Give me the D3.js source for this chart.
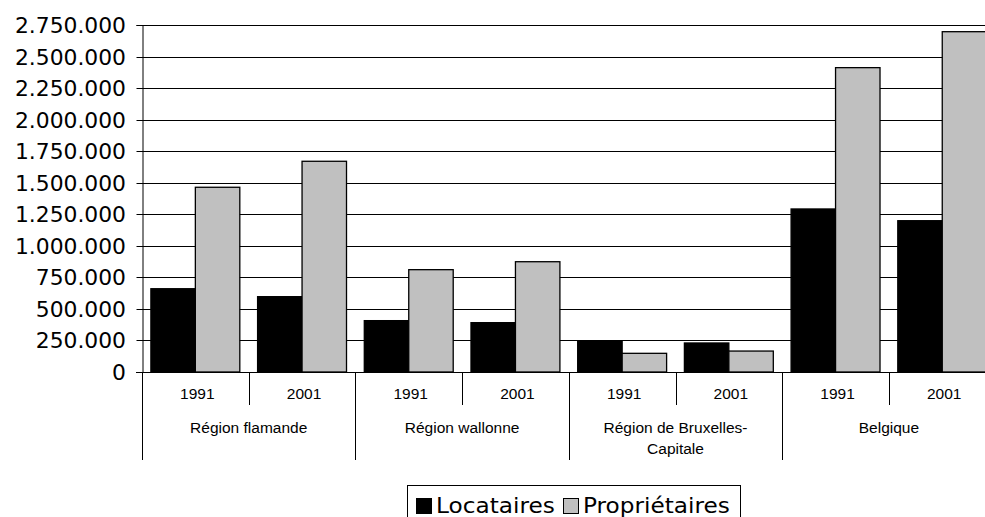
<!DOCTYPE html>
<html><head><meta charset="utf-8">
<script src="https://cdn.jsdelivr.net/npm/d3@7"></script>
<style>body{margin:0;background:#fff}svg{display:block}</style>
</head><body>
<svg id="c" width="985" height="517"></svg>
<script>
const regions = ["Région flamande","Région wallonne","Région de Bruxelles-Capitale","Belgique"];
const regionLines = [["Région flamande"],["Région wallonne"],["Région de Bruxelles-","Capitale"],["Belgique"]];
const years = ["1991","2001"];
const seriesNames = ["Locataires","Propriétaires"];
const seriesColors = ["#000000","#c0c0c0"];
// values per region, per year
const locataires   = [[660000,597000],[407000,391000],[246000,230000],[1292000,1199000]];
const proprietaires= [[1464000,1670000],[811000,874000],[148000,166000],[2412000,2697000]];
const yTicks = [0,250000,500000,750000,1000000,1250000,1500000,1750000,2000000,2250000,2500000,2750000];

const svg = d3.select("#c");
const pLeft=142, pRight=995.6, pTop=25, pBottom=372;
const y = d3.scaleLinear().domain([0,2750000]).range([pBottom,pTop]);
const xg = d3.scaleBand().domain(regions).range([pLeft,pRight]).paddingInner(0).paddingOuter(0);
const xy = d3.scaleBand().domain(years).range([0,xg.bandwidth()]);
const xs = d3.scaleBand().domain(seriesNames).range([0,xy.bandwidth()]).paddingInner(0).paddingOuter(0.2);
const fmt = v => d3.format(",")(v).replace(/,/g,".");

// gridlines
svg.append("g").selectAll("line").data(yTicks.slice(1)).join("line")
  .attr("x1",pLeft).attr("x2",985).attr("y1",d=>Math.round(y(d))+0.5).attr("y2",d=>Math.round(y(d))+0.5)
  .attr("stroke","#000").attr("stroke-width",1);

// y axis
const ya = svg.append("g").attr("transform",`translate(${pLeft+0.5},0)`)
  .call(d3.axisLeft(y).tickValues(yTicks).tickFormat(fmt).tickSize(6).tickPadding(10));
ya.select(".domain").attr("stroke","#000");
ya.selectAll(".tick line").attr("stroke","#000");
ya.selectAll(".tick").attr("transform",d=>`translate(0,${Math.round(y(d))+0.5})`);
ya.selectAll("text").attr("font-family","DejaVu Sans").attr("font-size",21).attr("fill","#000")
  .attr("dy","0.36em").attr("transform","scale(1.04,1)").attr("x",-16.5/1.04);

// bars
const data=[];
regions.forEach((r,ri)=>years.forEach((yr,yi)=>{
  data.push({r,yr,s:seriesNames[0],v:locataires[ri][yi],c:seriesColors[0]});
  data.push({r,yr,s:seriesNames[1],v:proprietaires[ri][yi],c:seriesColors[1]});
}));
svg.append("g").selectAll("rect").data(data).join("rect")
  .attr("x",d=>xg(d.r)+xy(d.yr)+xs(d.s))
  .attr("width",xs.bandwidth())
  .attr("y",d=>y(d.v)).attr("height",d=>y(0)-y(d.v))
  .attr("fill",d=>d.c).attr("stroke","#000").attr("stroke-width",1.3);

// baseline
svg.append("line").attr("x1",pLeft-6).attr("x2",985).attr("y1",pBottom+0.5).attr("y2",pBottom+0.5).attr("stroke","#000");

// category ticks
const minorX=[], majorX=[];
regions.forEach(r=>{ majorX.push(xg(r)); minorX.push(xg(r)+xy("2001")); });
majorX.push(pRight);
svg.append("g").selectAll("line").data(minorX).join("line")
  .attr("x1",d=>Math.round(d)+0.5).attr("x2",d=>Math.round(d)+0.5).attr("y1",pBottom).attr("y2",405).attr("stroke","#000");
svg.append("g").selectAll("line").data(majorX).join("line")
  .attr("x1",d=>Math.round(d)+0.5).attr("x2",d=>Math.round(d)+0.5).attr("y1",pBottom).attr("y2",460).attr("stroke","#000");

// year labels
const yl=[];
regions.forEach(r=>years.forEach(yr=>yl.push({r,yr})));
svg.append("g").selectAll("text").data(yl).join("text")
  .attr("x",d=>xg(d.r)+xy(d.yr)+xy.bandwidth()/2+2).attr("y",398.5)
  .attr("text-anchor","middle").attr("font-family","Liberation Sans, Arial").attr("font-size",15.5).attr("fill","#000")
  .text(d=>d.yr);

// region labels
const rg = svg.append("g").selectAll("text").data(regions).join("text")
  .attr("x",d=>xg(d)+xg.bandwidth()/2).attr("y",432.5)
  .attr("text-anchor","middle").attr("font-family","Liberation Sans, Arial").attr("font-size",15.5).attr("fill","#000");
rg.each(function(d,i){
  const t=d3.select(this);
  regionLines[i].forEach((ln,li)=>t.append("tspan").attr("x",xg(d)+xg.bandwidth()/2).attr("dy",li?21.5:0).text(ln));
});

// legend
const lg = svg.append("g");
lg.append("rect").attr("x",407.5).attr("y",485.5).attr("width",333).attr("height",50).attr("fill","#fff").attr("stroke","#000");
const litems=[{n:seriesNames[0],c:seriesColors[0],x:416,tx:436},{n:seriesNames[1],c:seriesColors[1],x:563,tx:583}];
litems.forEach(it=>{
  lg.append("rect").attr("x",it.x+0.5).attr("y",498.5).attr("width",15).attr("height",15).attr("fill",it.c).attr("stroke","#000").attr("stroke-width",1);
  lg.append("text").attr("x",it.tx).attr("y",513.5).attr("font-family","DejaVu Sans").attr("font-size",21).attr("fill","#000")
    .attr("transform",`translate(${it.tx},0) scale(1.105,1) translate(${-it.tx},0)`).text(it.n);
});
</script>
</body></html>
